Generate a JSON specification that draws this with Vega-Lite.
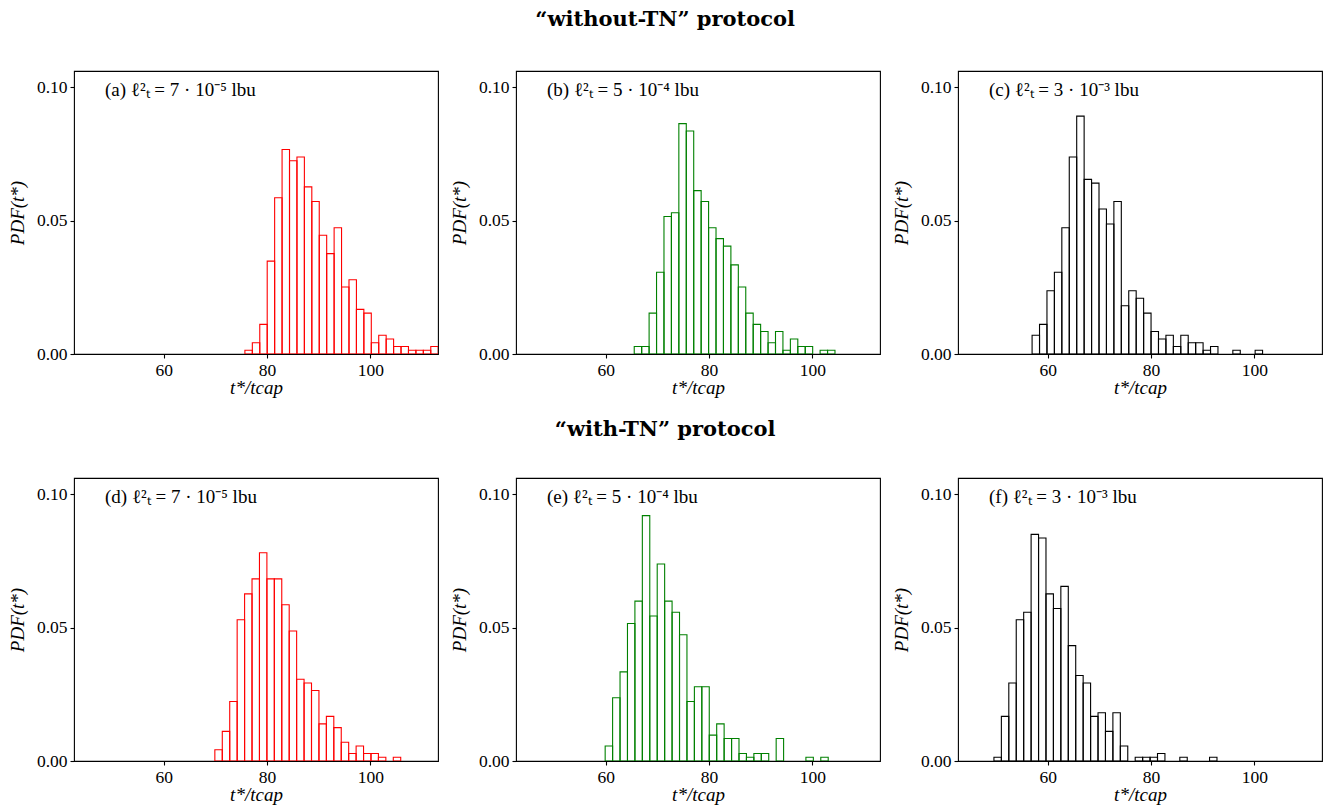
{
 "$schema": "https://vega.github.io/schema/vega-lite/v6.json",
 "background": "white",
 "padding": {"left": 7, "top": 9, "right": 3, "bottom": 2},
 "datasets": {
  "bins": [
   {"panel":"a","x0":75.70,"x1":77.14,"pdf":0.0014},
   {"panel":"a","x0":77.14,"x1":78.58,"pdf":0.0042},
   {"panel":"a","x0":78.58,"x1":80.02,"pdf":0.0111},
   {"panel":"a","x0":80.02,"x1":81.46,"pdf":0.0348},
   {"panel":"a","x0":81.46,"x1":82.90,"pdf":0.0585},
   {"panel":"a","x0":82.90,"x1":84.34,"pdf":0.0766},
   {"panel":"a","x0":84.34,"x1":85.78,"pdf":0.0724},
   {"panel":"a","x0":85.78,"x1":87.22,"pdf":0.0738},
   {"panel":"a","x0":87.22,"x1":88.66,"pdf":0.0626},
   {"panel":"a","x0":88.66,"x1":90.10,"pdf":0.0571},
   {"panel":"a","x0":90.10,"x1":91.54,"pdf":0.0445},
   {"panel":"a","x0":91.54,"x1":92.98,"pdf":0.0376},
   {"panel":"a","x0":92.98,"x1":94.42,"pdf":0.0473},
   {"panel":"a","x0":94.42,"x1":95.86,"pdf":0.0251},
   {"panel":"a","x0":95.86,"x1":97.30,"pdf":0.0278},
   {"panel":"a","x0":97.30,"x1":98.74,"pdf":0.0167},
   {"panel":"a","x0":98.74,"x1":100.18,"pdf":0.0153},
   {"panel":"a","x0":100.18,"x1":101.62,"pdf":0.0042},
   {"panel":"a","x0":101.62,"x1":103.06,"pdf":0.0070},
   {"panel":"a","x0":103.06,"x1":104.50,"pdf":0.0056},
   {"panel":"a","x0":104.50,"x1":105.94,"pdf":0.0028},
   {"panel":"a","x0":105.94,"x1":107.38,"pdf":0.0028},
   {"panel":"a","x0":107.38,"x1":108.82,"pdf":0.0014},
   {"panel":"a","x0":108.82,"x1":110.26,"pdf":0.0014},
   {"panel":"a","x0":110.26,"x1":111.70,"pdf":0.0014},
   {"panel":"a","x0":111.70,"x1":113.14,"pdf":0.0028},

   {"panel":"b","x0":65.50,"x1":66.94,"pdf":0.0028},
   {"panel":"b","x0":66.94,"x1":68.38,"pdf":0.0028},
   {"panel":"b","x0":68.38,"x1":69.82,"pdf":0.0153},
   {"panel":"b","x0":69.82,"x1":71.26,"pdf":0.0306},
   {"panel":"b","x0":71.26,"x1":72.70,"pdf":0.0515},
   {"panel":"b","x0":72.70,"x1":74.14,"pdf":0.0529},
   {"panel":"b","x0":74.14,"x1":75.58,"pdf":0.0863},
   {"panel":"b","x0":75.58,"x1":77.02,"pdf":0.0835},
   {"panel":"b","x0":77.02,"x1":78.46,"pdf":0.0612},
   {"panel":"b","x0":78.46,"x1":79.90,"pdf":0.0571},
   {"panel":"b","x0":79.90,"x1":81.34,"pdf":0.0473},
   {"panel":"b","x0":81.34,"x1":82.78,"pdf":0.0432},
   {"panel":"b","x0":82.78,"x1":84.22,"pdf":0.0404},
   {"panel":"b","x0":84.22,"x1":85.66,"pdf":0.0334},
   {"panel":"b","x0":85.66,"x1":87.10,"pdf":0.0251},
   {"panel":"b","x0":87.10,"x1":88.54,"pdf":0.0153},
   {"panel":"b","x0":88.54,"x1":89.98,"pdf":0.0111},
   {"panel":"b","x0":89.98,"x1":91.42,"pdf":0.0084},
   {"panel":"b","x0":91.42,"x1":92.86,"pdf":0.0042},
   {"panel":"b","x0":92.86,"x1":94.30,"pdf":0.0084},
   {"panel":"b","x0":94.30,"x1":95.74,"pdf":0.0014},
   {"panel":"b","x0":95.74,"x1":97.18,"pdf":0.0056},
   {"panel":"b","x0":97.18,"x1":98.62,"pdf":0.0028},
   {"panel":"b","x0":98.62,"x1":100.06,"pdf":0.0028},
   {"panel":"b","x0":101.50,"x1":102.94,"pdf":0.0014},
   {"panel":"b","x0":102.94,"x1":104.38,"pdf":0.0014},

   {"panel":"c","x0":56.95,"x1":58.39,"pdf":0.0070},
   {"panel":"c","x0":58.39,"x1":59.83,"pdf":0.0111},
   {"panel":"c","x0":59.83,"x1":61.27,"pdf":0.0237},
   {"panel":"c","x0":61.27,"x1":62.71,"pdf":0.0306},
   {"panel":"c","x0":62.71,"x1":64.15,"pdf":0.0473},
   {"panel":"c","x0":64.15,"x1":65.59,"pdf":0.0738},
   {"panel":"c","x0":65.59,"x1":67.03,"pdf":0.0891},
   {"panel":"c","x0":67.03,"x1":68.47,"pdf":0.0654},
   {"panel":"c","x0":68.47,"x1":69.91,"pdf":0.0640},
   {"panel":"c","x0":69.91,"x1":71.35,"pdf":0.0543},
   {"panel":"c","x0":71.35,"x1":72.79,"pdf":0.0487},
   {"panel":"c","x0":72.79,"x1":74.23,"pdf":0.0571},
   {"panel":"c","x0":74.23,"x1":75.67,"pdf":0.0181},
   {"panel":"c","x0":75.67,"x1":77.11,"pdf":0.0237},
   {"panel":"c","x0":77.11,"x1":78.55,"pdf":0.0209},
   {"panel":"c","x0":78.55,"x1":79.99,"pdf":0.0153},
   {"panel":"c","x0":79.99,"x1":81.43,"pdf":0.0084},
   {"panel":"c","x0":81.43,"x1":82.87,"pdf":0.0056},
   {"panel":"c","x0":82.87,"x1":84.31,"pdf":0.0070},
   {"panel":"c","x0":84.31,"x1":85.75,"pdf":0.0028},
   {"panel":"c","x0":85.75,"x1":87.19,"pdf":0.0070},
   {"panel":"c","x0":87.19,"x1":88.63,"pdf":0.0042},
   {"panel":"c","x0":88.63,"x1":90.07,"pdf":0.0042},
   {"panel":"c","x0":90.07,"x1":91.51,"pdf":0.0014},
   {"panel":"c","x0":91.51,"x1":92.95,"pdf":0.0028},
   {"panel":"c","x0":95.83,"x1":97.27,"pdf":0.0014},
   {"panel":"c","x0":100.15,"x1":101.59,"pdf":0.0014},

   {"panel":"d","x0":69.88,"x1":71.32,"pdf":0.0042},
   {"panel":"d","x0":71.32,"x1":72.76,"pdf":0.0111},
   {"panel":"d","x0":72.76,"x1":74.20,"pdf":0.0223},
   {"panel":"d","x0":74.20,"x1":75.64,"pdf":0.0529},
   {"panel":"d","x0":75.64,"x1":77.08,"pdf":0.0626},
   {"panel":"d","x0":77.08,"x1":78.52,"pdf":0.0682},
   {"panel":"d","x0":78.52,"x1":79.96,"pdf":0.0780},
   {"panel":"d","x0":79.96,"x1":81.40,"pdf":0.0682},
   {"panel":"d","x0":81.40,"x1":82.84,"pdf":0.0682},
   {"panel":"d","x0":82.84,"x1":84.28,"pdf":0.0585},
   {"panel":"d","x0":84.28,"x1":85.72,"pdf":0.0487},
   {"panel":"d","x0":85.72,"x1":87.16,"pdf":0.0306},
   {"panel":"d","x0":87.16,"x1":88.60,"pdf":0.0292},
   {"panel":"d","x0":88.60,"x1":90.04,"pdf":0.0264},
   {"panel":"d","x0":90.04,"x1":91.48,"pdf":0.0139},
   {"panel":"d","x0":91.48,"x1":92.92,"pdf":0.0167},
   {"panel":"d","x0":92.92,"x1":94.36,"pdf":0.0125},
   {"panel":"d","x0":94.36,"x1":95.80,"pdf":0.0070},
   {"panel":"d","x0":95.80,"x1":97.24,"pdf":0.0028},
   {"panel":"d","x0":97.24,"x1":98.68,"pdf":0.0056},
   {"panel":"d","x0":98.68,"x1":100.12,"pdf":0.0028},
   {"panel":"d","x0":100.12,"x1":101.56,"pdf":0.0028},
   {"panel":"d","x0":101.56,"x1":103.00,"pdf":0.0014},
   {"panel":"d","x0":104.44,"x1":105.88,"pdf":0.0014},

   {"panel":"e","x0":59.87,"x1":61.31,"pdf":0.0056},
   {"panel":"e","x0":61.31,"x1":62.75,"pdf":0.0237},
   {"panel":"e","x0":62.75,"x1":64.19,"pdf":0.0334},
   {"panel":"e","x0":64.19,"x1":65.63,"pdf":0.0515},
   {"panel":"e","x0":65.63,"x1":67.07,"pdf":0.0599},
   {"panel":"e","x0":67.07,"x1":68.51,"pdf":0.0919},
   {"panel":"e","x0":68.51,"x1":69.95,"pdf":0.0543},
   {"panel":"e","x0":69.95,"x1":71.39,"pdf":0.0738},
   {"panel":"e","x0":71.39,"x1":72.83,"pdf":0.0599},
   {"panel":"e","x0":72.83,"x1":74.27,"pdf":0.0557},
   {"panel":"e","x0":74.27,"x1":75.71,"pdf":0.0473},
   {"panel":"e","x0":75.71,"x1":77.15,"pdf":0.0223},
   {"panel":"e","x0":77.15,"x1":78.59,"pdf":0.0278},
   {"panel":"e","x0":78.59,"x1":80.03,"pdf":0.0278},
   {"panel":"e","x0":80.03,"x1":81.47,"pdf":0.0097},
   {"panel":"e","x0":81.47,"x1":82.91,"pdf":0.0139},
   {"panel":"e","x0":82.91,"x1":84.35,"pdf":0.0084},
   {"panel":"e","x0":84.35,"x1":85.79,"pdf":0.0084},
   {"panel":"e","x0":85.79,"x1":87.23,"pdf":0.0028},
   {"panel":"e","x0":87.23,"x1":88.67,"pdf":0.0014},
   {"panel":"e","x0":88.67,"x1":90.11,"pdf":0.0028},
   {"panel":"e","x0":90.11,"x1":91.55,"pdf":0.0028},
   {"panel":"e","x0":92.99,"x1":94.43,"pdf":0.0084},
   {"panel":"e","x0":98.75,"x1":100.19,"pdf":0.0014},
   {"panel":"e","x0":101.63,"x1":103.07,"pdf":0.0014},

   {"panel":"f","x0":49.56,"x1":51.00,"pdf":0.0014},
   {"panel":"f","x0":51.00,"x1":52.44,"pdf":0.0167},
   {"panel":"f","x0":52.44,"x1":53.88,"pdf":0.0292},
   {"panel":"f","x0":53.88,"x1":55.32,"pdf":0.0529},
   {"panel":"f","x0":55.32,"x1":56.76,"pdf":0.0557},
   {"panel":"f","x0":56.76,"x1":58.20,"pdf":0.0849},
   {"panel":"f","x0":58.20,"x1":59.64,"pdf":0.0835},
   {"panel":"f","x0":59.64,"x1":61.08,"pdf":0.0626},
   {"panel":"f","x0":61.08,"x1":62.52,"pdf":0.0571},
   {"panel":"f","x0":62.52,"x1":63.96,"pdf":0.0654},
   {"panel":"f","x0":63.96,"x1":65.40,"pdf":0.0432},
   {"panel":"f","x0":65.40,"x1":66.84,"pdf":0.0320},
   {"panel":"f","x0":66.84,"x1":68.28,"pdf":0.0292},
   {"panel":"f","x0":68.28,"x1":69.72,"pdf":0.0167},
   {"panel":"f","x0":69.72,"x1":71.16,"pdf":0.0181},
   {"panel":"f","x0":71.16,"x1":72.60,"pdf":0.0111},
   {"panel":"f","x0":72.60,"x1":74.04,"pdf":0.0181},
   {"panel":"f","x0":74.04,"x1":75.48,"pdf":0.0056},
   {"panel":"f","x0":76.92,"x1":78.36,"pdf":0.0014},
   {"panel":"f","x0":78.36,"x1":79.80,"pdf":0.0014},
   {"panel":"f","x0":79.80,"x1":81.24,"pdf":0.0014},
   {"panel":"f","x0":81.24,"x1":82.68,"pdf":0.0028},
   {"panel":"f","x0":85.56,"x1":87.00,"pdf":0.0014},
   {"panel":"f","x0":91.32,"x1":92.76,"pdf":0.0014}
  ],
  "labels": [
   {"panel":"a","label":"(a) ℓ²ₜ = 7 · 10⁻⁵ lbu"},
   {"panel":"b","label":"(b) ℓ²ₜ = 5 · 10⁻⁴ lbu"},
   {"panel":"c","label":"(c) ℓ²ₜ = 3 · 10⁻³ lbu"},
   {"panel":"d","label":"(d) ℓ²ₜ = 7 · 10⁻⁵ lbu"},
   {"panel":"e","label":"(e) ℓ²ₜ = 5 · 10⁻⁴ lbu"},
   {"panel":"f","label":"(f) ℓ²ₜ = 3 · 10⁻³ lbu"}
  ]
 },
 "config": {
  "font": "Liberation Serif",
  "view": {"stroke": "black", "strokeWidth": 1.1},
  "axis": {"domain": false, "grid": false, "tickColor": "black", "tickSize": 4, "tickWidth": 1.1, "labelFont": "Liberation Serif", "labelFontSize": 17.5, "labelColor": "black", "labelPadding": 3, "titleFont": "Liberation Serif", "titleFontSize": 19, "titleFontStyle": "italic", "titleFontWeight": "normal", "titleColor": "black"},
  "axisX": {"titlePadding": 0},
  "axisY": {"titlePadding": 9},
  "title": {"font": "DejaVu Serif", "fontSize": 21, "fontWeight": "bold", "color": "black", "anchor": "middle", "offset": 40}
 },
 "spacing": 20,
 "vconcat": [
  {
   "title": "“without-TN” protocol",
   "spacing": 78,
   "bounds": "flush",
   "hconcat": [
    {"width": 364, "height": 283, "data": {"name": "bins"},
     "layer": [
      {"transform": [{"filter": "datum.panel === 'a'"}],
       "mark": {"type": "bar", "fill": "#ff0000", "fillOpacity": 0, "stroke": "#ff0000", "strokeWidth": 1.1, "clip": true},
       "encoding": {
        "x": {"field": "x0", "type": "quantitative", "scale": {"domain": [42.6, 113.1], "nice": false, "zero": false}, "axis": {"values": [60, 80, 100], "title": "t*/tcap"}},
        "x2": {"field": "x1"},
        "y": {"field": "pdf", "type": "quantitative", "scale": {"domain": [0, 0.106], "nice": false}, "axis": {"values": [0, 0.05, 0.1], "format": ".2f", "title": "PDF(t*)"}},
        "y2": {"datum": 0}
       }},
      {"data": {"name": "labels"}, "transform": [{"filter": "datum.panel === 'a'"}],
       "mark": {"type": "text", "align": "left", "baseline": "middle", "font": "Liberation Serif", "fontSize": 19, "color": "black"},
       "encoding": {"x": {"datum": 48.6, "type": "quantitative"}, "y": {"datum": 0.099, "type": "quantitative"}, "text": {"field": "label"}}}
     ]},
    {"width": 364, "height": 283, "data": {"name": "bins"},
     "layer": [
      {"transform": [{"filter": "datum.panel === 'b'"}],
       "mark": {"type": "bar", "fill": "#008000", "fillOpacity": 0, "stroke": "#008000", "strokeWidth": 1.1, "clip": true},
       "encoding": {
        "x": {"field": "x0", "type": "quantitative", "scale": {"domain": [42.6, 113.1], "nice": false, "zero": false}, "axis": {"values": [60, 80, 100], "title": "t*/tcap"}},
        "x2": {"field": "x1"},
        "y": {"field": "pdf", "type": "quantitative", "scale": {"domain": [0, 0.106], "nice": false}, "axis": {"values": [0, 0.05, 0.1], "format": ".2f", "title": "PDF(t*)"}},
        "y2": {"datum": 0}
       }},
      {"data": {"name": "labels"}, "transform": [{"filter": "datum.panel === 'b'"}],
       "mark": {"type": "text", "align": "left", "baseline": "middle", "font": "Liberation Serif", "fontSize": 19, "color": "black"},
       "encoding": {"x": {"datum": 48.6, "type": "quantitative"}, "y": {"datum": 0.099, "type": "quantitative"}, "text": {"field": "label"}}}
     ]},
    {"width": 364, "height": 283, "data": {"name": "bins"},
     "layer": [
      {"transform": [{"filter": "datum.panel === 'c'"}],
       "mark": {"type": "bar", "fill": "#000000", "fillOpacity": 0, "stroke": "#000000", "strokeWidth": 1.1, "clip": true},
       "encoding": {
        "x": {"field": "x0", "type": "quantitative", "scale": {"domain": [42.6, 113.1], "nice": false, "zero": false}, "axis": {"values": [60, 80, 100], "title": "t*/tcap"}},
        "x2": {"field": "x1"},
        "y": {"field": "pdf", "type": "quantitative", "scale": {"domain": [0, 0.106], "nice": false}, "axis": {"values": [0, 0.05, 0.1], "format": ".2f", "title": "PDF(t*)"}},
        "y2": {"datum": 0}
       }},
      {"data": {"name": "labels"}, "transform": [{"filter": "datum.panel === 'c'"}],
       "mark": {"type": "text", "align": "left", "baseline": "middle", "font": "Liberation Serif", "fontSize": 19, "color": "black"},
       "encoding": {"x": {"datum": 48.6, "type": "quantitative"}, "y": {"datum": 0.099, "type": "quantitative"}, "text": {"field": "label"}}}
     ]}
   ]
  },
  {
   "title": {"text": "“with-TN” protocol", "offset": 37},
   "spacing": 78,
   "bounds": "flush",
   "hconcat": [
    {"width": 364, "height": 283, "data": {"name": "bins"},
     "layer": [
      {"transform": [{"filter": "datum.panel === 'd'"}],
       "mark": {"type": "bar", "fill": "#ff0000", "fillOpacity": 0, "stroke": "#ff0000", "strokeWidth": 1.1, "clip": true},
       "encoding": {
        "x": {"field": "x0", "type": "quantitative", "scale": {"domain": [42.6, 113.1], "nice": false, "zero": false}, "axis": {"values": [60, 80, 100], "title": "t*/tcap"}},
        "x2": {"field": "x1"},
        "y": {"field": "pdf", "type": "quantitative", "scale": {"domain": [0, 0.106], "nice": false}, "axis": {"values": [0, 0.05, 0.1], "format": ".2f", "title": "PDF(t*)"}},
        "y2": {"datum": 0}
       }},
      {"data": {"name": "labels"}, "transform": [{"filter": "datum.panel === 'd'"}],
       "mark": {"type": "text", "align": "left", "baseline": "middle", "font": "Liberation Serif", "fontSize": 19, "color": "black"},
       "encoding": {"x": {"datum": 48.6, "type": "quantitative"}, "y": {"datum": 0.099, "type": "quantitative"}, "text": {"field": "label"}}}
     ]},
    {"width": 364, "height": 283, "data": {"name": "bins"},
     "layer": [
      {"transform": [{"filter": "datum.panel === 'e'"}],
       "mark": {"type": "bar", "fill": "#008000", "fillOpacity": 0, "stroke": "#008000", "strokeWidth": 1.1, "clip": true},
       "encoding": {
        "x": {"field": "x0", "type": "quantitative", "scale": {"domain": [42.6, 113.1], "nice": false, "zero": false}, "axis": {"values": [60, 80, 100], "title": "t*/tcap"}},
        "x2": {"field": "x1"},
        "y": {"field": "pdf", "type": "quantitative", "scale": {"domain": [0, 0.106], "nice": false}, "axis": {"values": [0, 0.05, 0.1], "format": ".2f", "title": "PDF(t*)"}},
        "y2": {"datum": 0}
       }},
      {"data": {"name": "labels"}, "transform": [{"filter": "datum.panel === 'e'"}],
       "mark": {"type": "text", "align": "left", "baseline": "middle", "font": "Liberation Serif", "fontSize": 19, "color": "black"},
       "encoding": {"x": {"datum": 48.6, "type": "quantitative"}, "y": {"datum": 0.099, "type": "quantitative"}, "text": {"field": "label"}}}
     ]},
    {"width": 364, "height": 283, "data": {"name": "bins"},
     "layer": [
      {"transform": [{"filter": "datum.panel === 'f'"}],
       "mark": {"type": "bar", "fill": "#000000", "fillOpacity": 0, "stroke": "#000000", "strokeWidth": 1.1, "clip": true},
       "encoding": {
        "x": {"field": "x0", "type": "quantitative", "scale": {"domain": [42.6, 113.1], "nice": false, "zero": false}, "axis": {"values": [60, 80, 100], "title": "t*/tcap"}},
        "x2": {"field": "x1"},
        "y": {"field": "pdf", "type": "quantitative", "scale": {"domain": [0, 0.106], "nice": false}, "axis": {"values": [0, 0.05, 0.1], "format": ".2f", "title": "PDF(t*)"}},
        "y2": {"datum": 0}
       }},
      {"data": {"name": "labels"}, "transform": [{"filter": "datum.panel === 'f'"}],
       "mark": {"type": "text", "align": "left", "baseline": "middle", "font": "Liberation Serif", "fontSize": 19, "color": "black"},
       "encoding": {"x": {"datum": 48.6, "type": "quantitative"}, "y": {"datum": 0.099, "type": "quantitative"}, "text": {"field": "label"}}}
     ]}
   ]
  }
 ]
}
